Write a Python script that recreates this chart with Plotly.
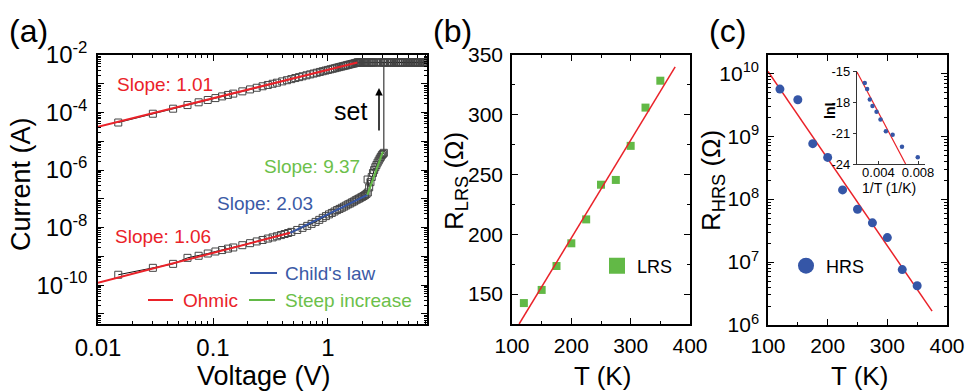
import math
import plotly.graph_objects as go

W, H = 966, 392

# ---------------- data: panel (a) I-V (set sweep) ----------------
v_hrs = [0.015, 0.03, 0.045, 0.06, 0.075, 0.09, 0.105, 0.12, 0.135, 0.15,
         0.18, 0.21, 0.24, 0.27, 0.30, 0.33, 0.36, 0.39, 0.42, 0.45,
         0.48, 0.54, 0.60, 0.66, 0.72, 0.78, 0.84, 0.90, 0.96, 1.02,
         1.08, 1.14, 1.20, 1.26, 1.32, 1.38, 1.44, 1.50, 1.56, 1.62,
         1.68, 1.74, 1.80, 1.86, 1.92, 1.98, 2.04, 2.10, 2.16, 2.22,
         2.21, 2.28, 2.34, 2.40, 2.46, 2.52, 2.58, 2.64, 2.70, 2.76,
         2.82, 2.88, 2.94, 3.00, 3.06]
i_hrs = [2.3e-10, 4.0e-10, 5.5e-10, 8.9e-10, 1.05e-9, 1.26e-9, 1.48e-9, 1.66e-9, 1.86e-9, 2.04e-9,
         2.45e-9, 2.88e-9, 3.31e-9, 3.72e-9, 4.17e-9, 4.57e-9, 5.0e-9, 5.5e-9, 6.0e-9, 6.5e-9,
         7.1e-9, 8.3e-9, 9.8e-9, 1.15e-8, 1.35e-8, 1.58e-8, 1.86e-8, 2.19e-8, 2.51e-8, 2.88e-8,
         3.24e-8, 3.63e-8, 4.07e-8, 4.47e-8, 4.90e-8, 5.37e-8, 5.89e-8, 6.46e-8, 6.92e-8, 7.59e-8,
         8.13e-8, 8.91e-8, 9.55e-8, 1.02e-7, 1.10e-7, 1.17e-7, 1.26e-7, 1.35e-7, 1.48e-7, 1.66e-7,
         4.7e-7, 2.5e-7, 3.8e-7, 5.75e-7, 7.9e-7, 1.0e-6, 1.26e-6, 1.51e-6, 1.82e-6, 2.14e-6,
         2.51e-6, 2.88e-6, 3.31e-6, 3.63e-6, 3.98e-6]
v_cc = [1.80, 1.83, 1.86, 1.90, 1.93, 1.96, 2.00, 2.05, 2.10, 2.15, 2.20, 2.25,
        2.30, 2.35, 2.40, 2.45, 2.50, 2.60, 2.70, 2.80, 2.90, 3.00, 3.06, 3.15,
        3.30, 3.45, 3.60, 3.75, 3.90, 4.05, 4.20, 4.35, 4.50, 4.70, 4.90, 5.10,
        5.30, 5.50, 5.70, 5.90, 6.10, 6.30, 6.50, 6.70, 6.90, 7.05]
i_cc = [5.5e-3, 5.5e-3, 5.5e-3, 5.5e-3, 5.5e-3, 5.5e-3, 5.5e-3, 5.5e-3, 5.5e-3, 5.5e-3, 5.5e-3, 5.5e-3,
        5.5e-3, 5.5e-3, 5.5e-3, 5.5e-3, 5.5e-3, 5.5e-3, 5.5e-3, 5.5e-3, 5.5e-3, 5.5e-3, 5.5e-3, 5.5e-3,
        5.5e-3, 5.5e-3, 5.5e-3, 5.5e-3, 5.5e-3, 5.5e-3, 5.5e-3, 5.5e-3, 5.5e-3, 5.5e-3, 5.5e-3, 5.5e-3,
        5.5e-3, 5.5e-3, 5.5e-3, 5.5e-3, 5.5e-3, 5.5e-3, 5.5e-3, 5.5e-3, 5.5e-3, 5.5e-3]
v_lrs = [0.015, 0.03, 0.045, 0.06, 0.075, 0.09, 0.105, 0.12, 0.135, 0.15,
         0.18, 0.21, 0.24, 0.27, 0.30, 0.33, 0.36, 0.40, 0.44, 0.48,
         0.52, 0.56, 0.60, 0.65, 0.70, 0.75, 0.80, 0.85, 0.90, 0.95,
         1.00, 1.05, 1.10, 1.15, 1.20, 1.25, 1.30, 1.35, 1.40, 1.45,
         1.50, 1.55, 1.60, 1.65, 1.70, 1.75, 1.80]
i_lrs = [4.5e-5, 9.1e-5, 1.36e-4, 1.82e-4, 2.27e-4, 2.73e-4, 3.18e-4, 3.64e-4, 4.09e-4, 4.55e-4,
         5.45e-4, 6.36e-4, 7.27e-4, 8.18e-4, 9.09e-4, 1.0e-3, 1.09e-3, 1.21e-3, 1.33e-3, 1.45e-3,
         1.58e-3, 1.70e-3, 1.82e-3, 1.97e-3, 2.12e-3, 2.27e-3, 2.42e-3, 2.58e-3, 2.73e-3, 2.88e-3,
         3.03e-3, 3.18e-3, 3.33e-3, 3.48e-3, 3.64e-3, 3.79e-3, 3.94e-3, 4.09e-3, 4.24e-3, 4.39e-3,
         4.55e-3, 4.70e-3, 4.85e-3, 5.0e-3, 5.15e-3, 5.3e-3, 5.45e-3]

fit_lrs_v = [0.01, 1.8]
fit_lrs_i = [3.2e-5, 5.5e-3]
fit_ohm_v = [0.01, 0.47]
fit_ohm_i = [1.2e-10, 6.6e-9]
fit_child_v = [0.47, 2.2]
fit_child_i = [6.6e-9, 1.38e-7]
fit_steep_v = [2.2, 3.0]
fit_steep_i = [1.38e-7, 4.4e-6]

x_ticks_a = [0.01, 0.1, 1]
x_ticktext_a = ["0.01", "0.1", "1"]
y_ticks_a = [1e-11, 1e-10, 1e-9, 1e-8, 1e-7, 1e-6, 1e-5, 1e-4, 1e-3, 1e-2]
y_ticktext_a = ["", "10<sup>-10</sup>", "", "10<sup>-8</sup>", "", "10<sup>-6</sup>", "",
                "10<sup>-4</sup>", "", "10<sup>-2</sup>"]

# ---------------- data: panel (b) LRS vs T ----------------
lrs_T = [120, 150, 175, 200, 225, 250, 275, 300, 325, 350]
lrs_R = [142.5, 153.5, 173.5, 192.5, 212.5, 241.5, 245.5, 274, 306, 328.5]
lrs_fit_T = [112, 375]
lrs_fit_R = [125, 340]

# ---------------- data: panel (c) HRS vs T ----------------
hrs_T = [120, 150, 175, 200, 225, 250, 275, 300, 325, 350]
hrs_R = [5.6e9, 3.8e9, 7.6e8, 4.6e8, 1.4e8, 6.9e7, 4.2e7, 2.45e7, 7.6e6, 4.2e6]
hrs_fit_T = [100, 375]
hrs_fit_R = [1.07e10, 1.66e6]
y_ticks_c = [1e6, 1e7, 1e8, 1e9, 1e10]
y_ticktext_c = ["10<sup>6</sup>", "10<sup>7</sup>", "10<sup>8</sup>", "10<sup>9</sup>", "10<sup>10</sup>"]

# inset: ln I vs 1/T
inv_T = [0.00263, 0.00287, 0.00314, 0.00341, 0.00382, 0.00422, 0.00476, 0.00544, 0.00638, 0.00797]
ln_I = [-16.16, -16.74, -17.76, -18.38, -18.95, -19.69, -20.84, -21.17, -22.33, -23.35]
inset_fit_x = [0.00185, 0.00675]
inset_fit_y = [-15.1, -24.0]
inset_xticks = [0.004, 0.008]
inset_xtext = ["0.004", "0.008"]
inset_yticks = [-24, -21, -18, -15]
inset_ytext = ["-24", "-21", "-18", "-15"]

# ---------------- styling ----------------
FONT = "Liberation Sans, Arial, sans-serif"
RED = "#ea2229"
BLUE = "#3556a7"
GREEN = "#62b946"
BLUE_TXT = "#3b5aa6"
GREEN_TXT = "#6cc04a"


def px(x):
    return x / W


def py(y):
    return 1 - y / H


fig = go.Figure()

# panel (a) data: forward sweep HRS -> set -> compliance
cc_fwd = [(v, i) for v, i in zip(v_cc, i_cc) if v >= v_hrs[-1]]
fwd_v = v_hrs + [c[0] for c in cc_fwd]
fwd_i = i_hrs + [c[1] for c in cc_fwd]
sq = dict(symbol="square-open", size=7, color="#444444", line=dict(width=1))
fig.add_trace(go.Scatter(x=fwd_v, y=fwd_i, mode="lines+markers", marker=sq,
                         line=dict(color="#111111", width=1), showlegend=False,
                         xaxis="x", yaxis="y"))
fig.add_trace(go.Scatter(x=v_lrs + v_cc, y=i_lrs + i_cc, mode="lines+markers", marker=sq,
                         line=dict(color="#111111", width=1), showlegend=False,
                         xaxis="x", yaxis="y"))
for fx, fy, col in [(fit_lrs_v, fit_lrs_i, RED), (fit_ohm_v, fit_ohm_i, RED),
                    (fit_child_v, fit_child_i, BLUE), (fit_steep_v, fit_steep_i, GREEN)]:
    fig.add_trace(go.Scatter(x=fx, y=fy, mode="lines", line=dict(color=col, width=2),
                             showlegend=False, xaxis="x", yaxis="y"))

# panel (b)
fig.add_trace(go.Scatter(x=lrs_T, y=lrs_R, mode="markers",
                         marker=dict(symbol="square", size=8, color=GREEN),
                         showlegend=False, xaxis="x2", yaxis="y2"))
fig.add_trace(go.Scatter(x=lrs_fit_T, y=lrs_fit_R, mode="lines", line=dict(color=RED, width=1.5),
                         showlegend=False, xaxis="x2", yaxis="y2"))
fig.add_trace(go.Scatter(x=[None], y=[None], mode="markers", name="LRS",
                         marker=dict(symbol="square", size=16, color=GREEN),
                         showlegend=True, legend="legend", xaxis="x2", yaxis="y2"))

# panel (c)
fig.add_trace(go.Scatter(x=hrs_fit_T, y=hrs_fit_R, mode="lines", line=dict(color=RED, width=1.5),
                         showlegend=False, xaxis="x3", yaxis="y3"))
fig.add_trace(go.Scatter(x=hrs_T, y=hrs_R, mode="markers",
                         marker=dict(symbol="circle", size=9, color=BLUE),
                         showlegend=False, xaxis="x3", yaxis="y3"))
fig.add_trace(go.Scatter(x=[None], y=[None], mode="markers", name="HRS",
                         marker=dict(symbol="circle", size=16, color=BLUE),
                         showlegend=True, legend="legend2", xaxis="x3", yaxis="y3"))

# inset
fig.add_trace(go.Scatter(x=inset_fit_x, y=inset_fit_y, mode="lines", line=dict(color=RED, width=1.2),
                         showlegend=False, xaxis="x4", yaxis="y4"))
fig.add_trace(go.Scatter(x=inv_T, y=ln_I, mode="markers",
                         marker=dict(symbol="circle", size=4.5, color=BLUE),
                         showlegend=False, xaxis="x4", yaxis="y4"))


def ax_style(size, **kw):
    d = dict(showline=True, linecolor="black", linewidth=1.5, mirror="allticks",
             ticks="inside", ticklen=6, tickwidth=1.2, tickcolor="black",
             showgrid=False, zeroline=False, automargin=False,
             tickfont=dict(family=FONT, size=size, color="black"))
    d.update(kw)
    return d


MINOR = dict(ticks="inside", ticklen=3, tickcolor="black", tickwidth=1, showgrid=False)
dom_y_ab = [py(324), py(55)]
layout = dict(
    width=W, height=H, margin=dict(l=0, r=0, t=0, b=0, autoexpand=False),
    paper_bgcolor="white", plot_bgcolor="white",
    font=dict(family=FONT, color="black"),
    xaxis=ax_style(24, domain=[px(98), px(427)], anchor="y", type="log",
                   range=[-2, math.log10(7.26)], tickmode="array", tickvals=x_ticks_a,
                   ticktext=x_ticktext_a, ticklabelstandoff=1,
                   minor=dict(dtick="D1", **MINOR)),
    yaxis=ax_style(24, domain=dom_y_ab, anchor="x", type="log", range=[-11.35, -2],
                   tickmode="array", tickvals=y_ticks_a, ticktext=y_ticktext_a,
                   ticklabelstandoff=4,
                   minor=dict(dtick="D1", **MINOR)),
    xaxis2=ax_style(21, domain=[px(512), px(690)], anchor="y2", range=[100, 400],
                    dtick=100, tick0=0, ticklabelstandoff=2,
                    minor=dict(dtick=50, **MINOR)),
    yaxis2=ax_style(21, domain=dom_y_ab, anchor="x2", range=[125, 350], dtick=50, tick0=0,
                    ticklabelstandoff=3,
                    minor=dict(dtick=25, **MINOR)),
    xaxis3=ax_style(21, domain=[px(768), px(947)], anchor="y3", range=[100, 400],
                    dtick=100, tick0=0, ticklabelstandoff=1,
                    minor=dict(dtick=50, **MINOR)),
    yaxis3=ax_style(21, domain=[py(325), py(55)], anchor="x3", type="log", range=[6, 10.29],
                    tickmode="array", tickvals=y_ticks_c, ticktext=y_ticktext_c,
                    ticklabelstandoff=3,
                    minor=dict(dtick="D1", **MINOR)),
    xaxis4=dict(domain=[px(857), px(925)], anchor="y4", range=[0.00185, 0.0087],
                showline=True, linecolor="#333333", linewidth=1.3, mirror=False,
                ticks="inside", ticklen=3, tickcolor="#333333", showgrid=False, zeroline=False,
                automargin=False, ticklabelstandoff=-4,
                tickmode="array", tickvals=inset_xticks, ticktext=inset_xtext,
                tickfont=dict(family=FONT, size=13, color="black")),
    yaxis4=dict(domain=[py(164), py(71)], anchor="x4", range=[-24, -15],
                showline=True, linecolor="#333333", linewidth=1.3, mirror=False,
                ticks="outside", ticklen=3, tickcolor="#333333", showgrid=False, zeroline=False,
                automargin=False, ticklabelstandoff=0,
                tickmode="array", tickvals=inset_yticks, ticktext=inset_ytext,
                tickfont=dict(family=FONT, size=13, color="black")),
    legend=dict(x=px(597), y=py(266), xanchor="left", yanchor="middle",
                bgcolor="rgba(0,0,0,0)", font=dict(family=FONT, size=18, color="black")),
    legend2=dict(x=px(786), y=py(266), xanchor="left", yanchor="middle",
                 bgcolor="rgba(0,0,0,0)", font=dict(family=FONT, size=18, color="black")),
)
fig.update_layout(**layout)

ann = []


def text(x, y, s, size, color="black", xanchor="center", angle=0):
    ann.append(dict(x=px(x), y=py(y), xref="paper", yref="paper", text=s, showarrow=False,
                    xanchor=xanchor, yanchor="middle", textangle=angle,
                    font=dict(family=FONT, size=size, color=color)))


# panel labels
text(28, 31, "(a)", 32)
text(452, 31, "(b)", 32)
text(727, 31, "(c)", 32)
# axis titles
text(21, 184, "Current (A)", 27, angle=-90)
text(264, 376, "Voltage (V)", 27)
text(455, 181, "R<sub>LRS</sub> (Ω)", 26, angle=-90)
text(602, 376, "T (K)", 26)
text(712, 181, "R<sub>HRS</sub> (Ω)", 26, angle=-90)
text(859, 376, "T (K)", 26)
# panel (a) annotations
text(115, 84, "Slope: 1.01", 19, RED, xanchor="left")
text(113, 236, "Slope: 1.06", 19, RED, xanchor="left")
text(215, 203, "Slope: 2.03", 19, BLUE_TXT, xanchor="left")
text(262, 167, "Slope: 9.37", 19, GREEN_TXT, xanchor="left")
text(332, 111, "set", 25, xanchor="left")
text(283, 273, "Child's law", 19, BLUE_TXT, xanchor="left")
text(181, 300, "Ohmic", 19, RED, xanchor="left")
text(283, 300, "Steep increase", 19, GREEN_TXT, xanchor="left")
# inset titles
text(830, 111, "<b>lnI</b>", 14, angle=-90)
text(889, 188, "1/T (1/K)", 14)
# set arrow
ann.append(dict(x=px(379), y=py(88), xref="paper", yref="paper", ax=0, ay=44, text="",
                showarrow=True, arrowhead=2, arrowsize=1, arrowwidth=1.5, arrowcolor="black"))
fig.update_layout(annotations=ann)

# legend line samples for panel (a)
shapes = []
for x0, x1, y, col in [(250, 277, 273, BLUE), (148, 173, 300, RED), (249, 275, 300, GREEN)]:
    shapes.append(dict(type="line", xref="paper", yref="paper", x0=px(x0), x1=px(x1),
                       y0=py(y), y1=py(y), line=dict(color=col, width=2)))
fig.update_layout(shapes=shapes)

fig.write_html("out.html")
